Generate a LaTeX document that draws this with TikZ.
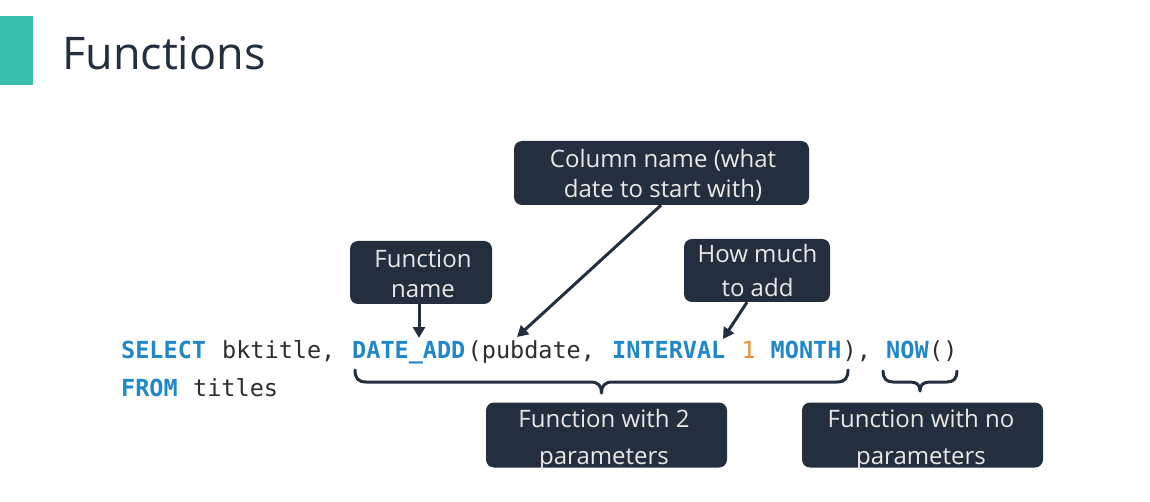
\documentclass[tikz,border=0pt]{standalone}
\usepackage{fontspec}
\setmainfont{Open Sans}
\newfontfamily\codefont{DejaVu Sans Mono}
\usetikzlibrary{calc,arrows.meta}
\definecolor{ink}{HTML}{232F3E}
\definecolor{tealbar}{HTML}{3BBFAD}
\definecolor{kw}{HTML}{2088C8}
\definecolor{num}{HTML}{E8902F}
\definecolor{codetext}{HTML}{2D2D2D}
\definecolor{boxtext}{HTML}{E8E8E8}
\begin{document}
\begin{tikzpicture}[x=1pt,y=-1pt,
  callout/.style={fill=ink, rounded corners=8pt, inner sep=0pt, draw=none},
  boxline/.style={anchor=base, inner sep=0pt, text=boxtext, font=\fontsize{24}{24}\selectfont},
  tok/.style={anchor=base west, inner sep=0pt, text=codetext, font=\codefont\fontsize{23.5}{23.5}\selectfont},
  kwtok/.style={tok, text=kw, font=\codefont\bfseries\fontsize{23.5}{23.5}\selectfont},
  numtok/.style={tok, text=num},
  pointer/.style={draw=ink, line width=3pt, -{Triangle[length=11pt,width=12pt]}},
  curly/.style={draw=ink, line width=3pt, line cap=round, line join=round}
]
\useasboundingbox (0,0) rectangle (1150,502);
% title
\fill[tealbar] (0,16) rectangle (33,85);
\node[anchor=base west, inner sep=0pt, text=ink, font=\fontsize{45}{45}\selectfont] (title) at (62,70) {Functions};

% code tokens (14.43 px per character)
\node[kwtok] (select) at (121,358) {SELECT};
\node[tok] (bktitle) at (222,358) {bktitle,};
\node[kwtok] (dateadd) at (352,358) {DATE\_ADD};
\node[tok] (pubdate) at (467.5,358) {(pubdate,};
\node[kwtok] (interval) at (612,358) {INTERVAL};
\node[numtok] (one) at (741.5,358) {1};
\node[kwtok] (month) at (770.5,358) {MONTH};
\node[tok] (close) at (842.5,358) {),};
\node[kwtok] (now) at (886,358) {NOW};
\node[tok] (parens) at (929,358) {()};
\node[kwtok] (from) at (121,396) {FROM};
\node[tok] (titles) at (193,396) {titles};

% callout boxes
\node[callout, minimum width=142pt, minimum height=63pt] (fnbox) at (421,272.5) {};
\node[boxline] (fnA) at (423,268) {Function};
\node[boxline] (fnB) at (423,298) {name};

\node[callout, minimum width=295pt, minimum height=64pt] (colbox) at (661.5,173) {};
\node[boxline] (colA) at (663,168) {Column name (what};
\node[boxline] (colB) at (663,198) {date to start with)};

\node[callout, minimum width=146pt, minimum height=63pt] (howbox) at (757,270.5) {};
\node[boxline] (howA) at (757.5,263) {How much};
\node[boxline] (howB) at (757.5,297) {to add};

\node[callout, minimum width=241pt, minimum height=65pt] (twobox) at (606.5,435) {};
\node[boxline] (twoA) at (604,427) {Function with 2};
\node[boxline] (twoB) at (604,464) {parameters};

\node[callout, minimum width=241pt, minimum height=65pt] (nobox) at (922.5,435) {};
\node[boxline] (noA) at (921,427) {Function with no};
\node[boxline] (noB) at (921,464) {parameters};

% pointers
\coordinate (fnTip) at (419,338);
\coordinate (colTip) at (517,337);
\coordinate (howTip) at (723,339);
\draw[pointer] (fnbox.south -| fnTip) -- (fnTip);
\draw[pointer] ([xshift=-0.5pt]colbox.south) -- (colTip);
\draw[pointer] ([xshift=-10pt]howbox.south) -- (howTip);

% braces
\coordinate (bigL) at (355,370);
\coordinate (bigR) at (848,370);
\coordinate (bigM) at (601.5,393);
\coordinate (smallL) at (883,371);
\coordinate (smallR) at (957,371);
\coordinate (smallM) at (920,391);
\draw[curly] (bigL) .. controls +(0,8) and +(-8,0) .. ($(bigL)+(11,12)$)
  -- ($(bigM)+(-11,-11)$) .. controls +(8,0) and +(0,-7) .. (bigM)
  .. controls +(0,-7) and +(-8,0) .. ($(bigM)+(11,-11)$)
  -- ($(bigR)+(-11,12)$) .. controls +(8,0) and +(0,8) .. (bigR);
\draw[curly] (smallL) .. controls +(0,7) and +(-7,0) .. ($(smallL)+(10,11)$)
  -- ($(smallM)+(-10,-9)$) .. controls +(7,0) and +(0,-6) .. (smallM)
  .. controls +(0,-6) and +(-7,0) .. ($(smallM)+(10,-9)$)
  -- ($(smallR)+(-10,11)$) .. controls +(7,0) and +(0,7) .. (smallR);
\end{tikzpicture}
\end{document}
